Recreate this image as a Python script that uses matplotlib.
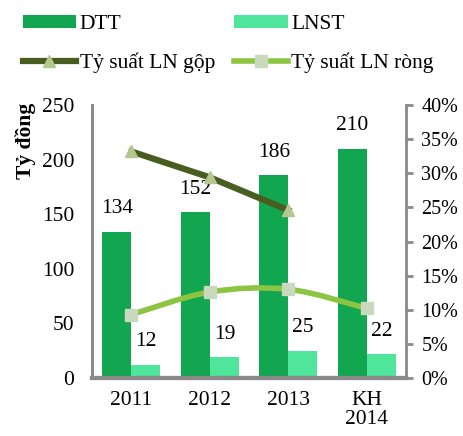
import matplotlib.pyplot as plt
import numpy as np
from matplotlib.path import Path
from matplotlib.patches import PathPatch
from matplotlib.lines import Line2D
from matplotlib.ticker import FuncFormatter

plt.rcParams["font.family"] = ["Liberation Serif", "DejaVu Serif"]

# --------------------------------------------------
# data
# --------------------------------------------------
categories = ["2011", "2012", "2013", "KH\n2014"]
dtt = [134, 152, 186, 210]
lnst = [12, 19, 25, 22]
ty_suat_gop = [33.2, 29.4, 24.6]          # % (no value for KH 2014)
ty_suat_rong = [9.3, 12.6, 13.0, 10.2]    # %

C_DTT = "#12a650"
C_LNST = "#4fe69b"
C_GOP = "#4a5d21"
C_GOP_MK = "#b3c78e"
C_RONG = "#8dc542"
C_RONG_MK = "#c9d9bd"
C_AXIS = "#8a8a8a"

FS = 15.5

fig = plt.figure(figsize=(4.63, 4.36), dpi=100)
ax = fig.add_axes([0.199, 0.133, 0.678, 0.626])
ax2 = ax.twinx()

x = np.arange(len(categories))
w = 0.37

b1 = ax.bar(x - w / 2, dtt, w, color=C_DTT, zorder=2)
b2 = ax.bar(x + w / 2, lnst, w, color=C_LNST, zorder=2)

for xi, v in zip(x - w / 2, dtt):
    ax.annotate(str(v), (xi, v), xytext=(0, 16.5), textcoords="offset points",
                ha="center", va="center", fontsize=FS)
for xi, v in zip(x + w / 2, lnst):
    ax.annotate(str(v), (xi, v), xytext=(0, 16.5), textcoords="offset points",
                ha="center", va="center", fontsize=FS)

ax.set_xlim(-0.5, len(categories) - 0.5)
ax.set_ylim(0, 250)
ax.set_yticks(range(0, 251, 50))
ax.set_xticks(x)
ax.set_xticklabels(categories, linespacing=1.0)
ax.tick_params(axis="x", length=0, pad=9, labelsize=FS)
ax.tick_params(axis="y", length=0, pad=13, labelsize=FS)
ax.set_ylabel("Tỷ đồng", fontsize=FS, fontweight="bold")
ax.yaxis.set_label_coords(-0.212, 0.87)
ax.yaxis.label.set_va("center")

# gross margin line (straight)
xg = x[:len(ty_suat_gop)]
ax2.plot(xg, ty_suat_gop, color=C_GOP, lw=4.5, marker="^", ms=8,
         mfc=C_GOP_MK, mec=C_GOP_MK, zorder=3)

# net margin line, drawn smoothed through the data points
xr = x.astype(float)
yr = np.array(ty_suat_rong)
verts = [(xr[0], yr[0])]
codes = [Path.MOVETO]
for i in range(len(xr) - 1):
    p0 = (xr[max(i - 1, 0)], yr[max(i - 1, 0)])
    p1 = (xr[i], yr[i])
    p2 = (xr[i + 1], yr[i + 1])
    p3 = (xr[min(i + 2, len(xr) - 1)], yr[min(i + 2, len(xr) - 1)])
    c1 = (p1[0] + (p2[0] - p0[0]) / 6, p1[1] + (p2[1] - p0[1]) / 6)
    c2 = (p2[0] - (p3[0] - p1[0]) / 6, p2[1] - (p3[1] - p1[1]) / 6)
    verts += [c1, c2, p2]
    codes += [Path.CURVE4] * 3
ax2.add_patch(PathPatch(Path(verts, codes), fill=False, ec=C_RONG, lw=4, zorder=3))
ax2.plot(xr, yr, ls="none", marker="s", ms=8, mfc=C_RONG_MK, mec=C_RONG_MK, zorder=4)

ax2.set_ylim(0, 40)
ax2.set_yticks(range(0, 41, 5))
ax2.yaxis.set_major_formatter(FuncFormatter(lambda v, p: f"{int(v)}%"))
ax2.tick_params(axis="y", length=5, width=2, color=C_AXIS, pad=6, labelsize=14.5)

for a in (ax, ax2):
    a.spines["top"].set_visible(False)
    a.spines["left"].set_color(C_AXIS)
    a.spines["right"].set_color(C_AXIS)
    a.spines["bottom"].set_color(C_AXIS)
    a.spines["left"].set_linewidth(2)
    a.spines["right"].set_linewidth(2)
    a.spines["bottom"].set_linewidth(3)
ax.spines["right"].set_visible(False)

h_gop = Line2D([], [], color=C_GOP, lw=4.5, marker="^", ms=8, mfc=C_GOP_MK, mec=C_GOP_MK)
h_rong = Line2D([], [], color=C_RONG, lw=4, marker="s", ms=8, mfc=C_RONG_MK, mec=C_RONG_MK)
fig.legend([b1, h_gop, b2, h_rong],
           ["DTT", "Tỷ suất LN gộp", "LNST", "Tỷ suất LN ròng"],
           loc="upper left", bbox_to_anchor=(0.03, 0.986), ncol=2, frameon=False,
           fontsize=FS, handlelength=2.5, handleheight=0.55, handletextpad=0.15,
           columnspacing=0.9, labelspacing=0.85, borderaxespad=0.0)

fig.savefig("out.png", dpi=100)
